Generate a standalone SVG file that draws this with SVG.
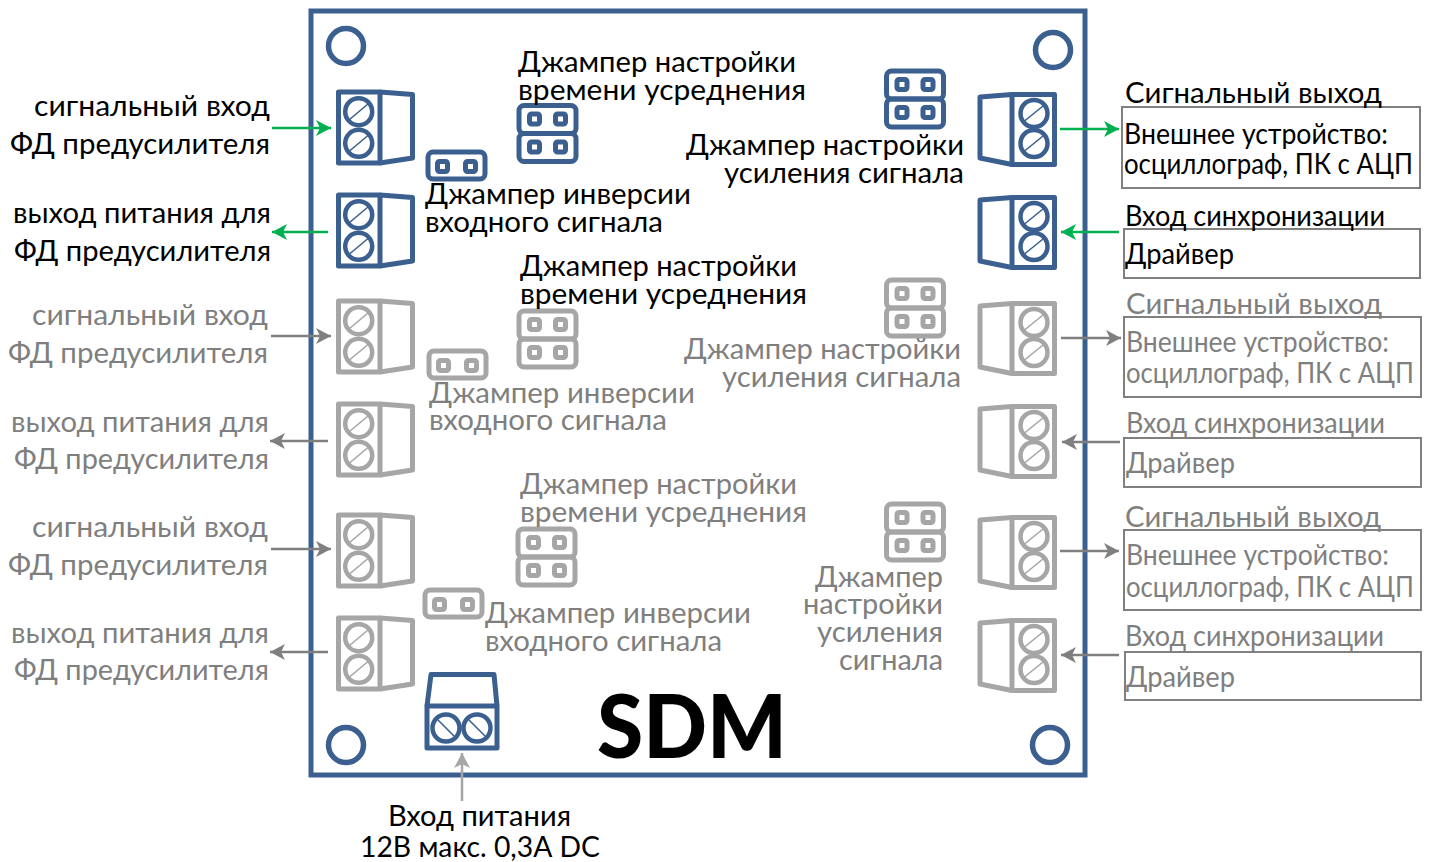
<svg xmlns="http://www.w3.org/2000/svg" width="1430" height="862" viewBox="0 0 1430 862">
<style>
text{font-family:"Lato","Open Sans","Noto Sans",sans-serif;font-size:28px;fill:#000}
.g text,text.g{fill:#7f7f7f}
.sh{fill:none;stroke-linejoin:round}
.blue{color:#3b6090}.grey{color:#a6a6a6}
.box{fill:none;stroke:#808080;stroke-width:2}
.ag{stroke:#00b050;stroke-width:2.5;fill:none;marker-end:url(#ma)}
.ak{stroke:#7f7f7f;stroke-width:2.5;fill:none;marker-end:url(#mk)}
.ap{stroke:#a6a6a6;stroke-width:2.5;fill:none;marker-end:url(#mp)}
</style>
<defs>
<marker id="ma" markerUnits="userSpaceOnUse" markerWidth="16" markerHeight="16" refX="15" refY="8" orient="auto"><path d="M0,0 L15,8 L0,16 L4,8Z" fill="#00b050"/></marker>
<marker id="mk" markerUnits="userSpaceOnUse" markerWidth="16" markerHeight="16" refX="15" refY="8" orient="auto"><path d="M0,0 L15,8 L0,16 L4,8Z" fill="#7f7f7f"/></marker>
<marker id="mp" markerUnits="userSpaceOnUse" markerWidth="16" markerHeight="16" refX="15" refY="8" orient="auto"><path d="M0,0 L15,8 L0,16 L4,8Z" fill="#a6a6a6"/></marker>
<g id="term" class="sh" stroke="currentColor">
<rect x="2.5" y="2.5" width="41.5" height="71" stroke-width="5"/>
<path d="M44,2.5 L76.5,5 V68.5 L44,73.5" stroke-width="5"/>
<circle cx="22.7" cy="22.2" r="13.5" stroke-width="4.5"/><circle cx="22.7" cy="53.8" r="13.5" stroke-width="4.5"/>
<path d="M13.5,30 L32,14.5 M13.5,61.5 L32,46" stroke-width="1.6"/>
</g>
<g id="termr" class="sh" stroke="currentColor">
<rect x="34.5" y="2.5" width="42.5" height="70" stroke-width="5"/>
<path d="M34.5,2.5 L2.5,5 V66 L34.5,72.5" stroke-width="5"/>
<circle cx="56.5" cy="21.5" r="13.5" stroke-width="4.5"/><circle cx="56.5" cy="51.5" r="13.5" stroke-width="4.5"/>
<path d="M47,29 L65.5,14 M47,59 L65.5,44" stroke-width="1.6"/>
</g>
<g id="pin" class="sh" stroke="currentColor"><rect x="-5" y="-5" width="10" height="10" rx="2" stroke-width="5"/></g>
<g id="j1" class="sh" stroke="currentColor"><rect x="2.5" y="2.5" width="57" height="27" rx="5" stroke-width="5"/>
<use href="#pin" x="17" y="17"/><use href="#pin" x="45" y="17"/></g>
<g id="j2" class="sh" stroke="currentColor"><rect x="2.5" y="2.5" width="57" height="28" rx="5" stroke-width="5"/><rect x="2.5" y="30.5" width="57" height="28" rx="5" stroke-width="5"/>
<use href="#pin" x="18" y="16"/><use href="#pin" x="44" y="16"/><use href="#pin" x="18" y="44"/><use href="#pin" x="44" y="44"/></g>
</defs>
<rect id="board" x="311" y="11" width="774" height="764" fill="none" stroke="#3b6090" stroke-width="5"/>
<g id="holes" fill="none" stroke="#3b6090" stroke-width="5.5">
<circle cx="346" cy="46" r="17.5"/><circle cx="1053" cy="50" r="17.5"/><circle cx="346" cy="745" r="17.5"/><circle cx="1050" cy="745" r="17.5"/>
</g>
<g id="term-l1" class="blue"><use href="#term" x="336" y="89.5"/></g>
<g id="term-l2" class="blue"><use href="#term" x="336" y="192.5"/></g>
<g id="term-l3" class="grey"><use href="#term" x="336" y="298.5"/></g>
<g id="term-l4" class="grey"><use href="#term" x="336" y="401.5"/></g>
<g id="term-l5" class="grey"><use href="#term" x="336" y="512.5"/></g>
<g id="term-l6" class="grey"><use href="#term" x="336" y="615.5"/></g>
<g id="term-r1" class="blue"><use href="#termr" x="977.5" y="92"/></g>
<g id="term-r2" class="blue"><use href="#termr" x="977.5" y="195"/></g>
<g id="term-r3" class="grey"><use href="#termr" x="977.5" y="301"/></g>
<g id="term-r4" class="grey"><use href="#termr" x="977.5" y="404"/></g>
<g id="term-r5" class="grey"><use href="#termr" x="977.5" y="515"/></g>
<g id="term-r6" class="grey"><use href="#termr" x="977.5" y="618"/></g>
<g id="term-power" class="blue"><g class="sh" stroke="currentColor">
<path d="M427,706 L431,674.5 H494 L497,706" stroke-width="5"/>
<rect x="427" y="706" width="70" height="42" stroke-width="5"/>
<circle cx="446" cy="728" r="13.5" stroke-width="4.5"/><circle cx="477" cy="728" r="13.5" stroke-width="4.5"/>
<path d="M438,720 L454,736 M469,720 L485,736" stroke-width="1.6"/></g></g>
<g id="jumper-a" class="blue"><use href="#j2" x="516.5" y="103"/></g>
<g id="jumper-b" class="blue"><use href="#j1" x="425.5" y="149.5"/></g>
<g id="jumper-c" class="blue"><use href="#j2" x="884" y="68.5"/></g>
<g id="jumper-d" class="grey"><use href="#j2" x="516.5" y="308.5"/></g>
<g id="jumper-e" class="grey"><use href="#j1" x="426.5" y="348.5"/></g>
<g id="jumper-f" class="grey"><use href="#j2" x="884" y="277.5"/></g>
<g id="jumper-g" class="grey"><use href="#j2" x="515.5" y="526.5"/></g>
<g id="jumper-h" class="grey"><use href="#j1" x="422.5" y="587.5"/></g>
<g id="jumper-i" class="grey"><use href="#j2" x="884" y="501.5"/></g>
<g id="boxes">
<rect class="box" x="1122" y="107" width="298" height="81"/>
<rect class="box" x="1124" y="229" width="296" height="49"/>
<rect class="box" x="1124" y="317" width="297" height="80"/>
<rect class="box" x="1124" y="438" width="297" height="49"/>
<rect class="box" x="1124" y="530" width="297" height="80"/>
<rect class="box" x="1125" y="652" width="296" height="48"/>
</g>
<g id="connectors">
<path class="ag" d="M272,128H331"/><path class="ag" d="M328,232H272"/>
<path class="ak" d="M271,336H331"/><path class="ak" d="M328,441H270"/>
<path class="ak" d="M271,549H331"/><path class="ak" d="M328,652H270"/>
<path class="ag" d="M1060,129H1119"/><path class="ag" d="M1119,232H1061"/>
<path class="ak" d="M1061,338H1121"/><path class="ak" d="M1120,442H1062"/>
<path class="ak" d="M1060,551H1119"/><path class="ak" d="M1119,655H1061"/>
<path class="ap" d="M462,801V753"/>
</g>
<g id="labels">
<text x="518" y="72" textLength="278" lengthAdjust="spacingAndGlyphs">Джампер настройки</text>
<text x="518" y="100" textLength="288" lengthAdjust="spacingAndGlyphs">времени усреднения</text>
<text x="425" y="204" textLength="266" lengthAdjust="spacingAndGlyphs">Джампер инверсии</text>
<text x="425" y="232" textLength="238" lengthAdjust="spacingAndGlyphs">входного сигнала</text>
<text x="686" y="155" textLength="278" lengthAdjust="spacingAndGlyphs">Джампер настройки</text>
<text x="724" y="183" textLength="240" lengthAdjust="spacingAndGlyphs">усиления сигнала</text>
<text x="1125" y="103" textLength="257" lengthAdjust="spacingAndGlyphs">Сигнальный выход</text>
<text x="1124" y="144" textLength="264" lengthAdjust="spacingAndGlyphs">Внешнее устройство:</text>
<text x="1124" y="174" textLength="289" lengthAdjust="spacingAndGlyphs">осциллограф, ПК с АЦП</text>
<text x="1125" y="226" textLength="260" lengthAdjust="spacingAndGlyphs">Вход синхронизации</text>
<text x="1125" y="264" textLength="109" lengthAdjust="spacingAndGlyphs">Драйвер</text>
<text x="34" y="116" textLength="236" lengthAdjust="spacingAndGlyphs">сигнальный вход</text>
<text x="10" y="154" textLength="260" lengthAdjust="spacingAndGlyphs">ФД предусилителя</text>
<text x="13" y="223" textLength="258" lengthAdjust="spacingAndGlyphs">выход питания для</text>
<text x="14" y="261" textLength="257" lengthAdjust="spacingAndGlyphs">ФД предусилителя</text>
<text x="520" y="276" textLength="277" lengthAdjust="spacingAndGlyphs">Джампер настройки</text>
<text x="520" y="304" textLength="287" lengthAdjust="spacingAndGlyphs">времени усреднения</text>
<text x="388" y="826" textLength="183" lengthAdjust="spacingAndGlyphs">Вход питания</text>
<text x="360" y="857" textLength="240" lengthAdjust="spacingAndGlyphs">12В макс. 0,3А DC</text>
<text x="597" y="758" textLength="190" lengthAdjust="spacingAndGlyphs" style="font-size:87px;font-weight:900">SDM</text>
</g>
<g id="labels-grey" class="g">
<text x="32" y="325" textLength="236" lengthAdjust="spacingAndGlyphs">сигнальный вход</text>
<text x="8" y="363" textLength="260" lengthAdjust="spacingAndGlyphs">ФД предусилителя</text>
<text x="11" y="432" textLength="258" lengthAdjust="spacingAndGlyphs">выход питания для</text>
<text x="14" y="469" textLength="255" lengthAdjust="spacingAndGlyphs">ФД предусилителя</text>
<text x="32" y="537" textLength="236" lengthAdjust="spacingAndGlyphs">сигнальный вход</text>
<text x="8" y="575" textLength="260" lengthAdjust="spacingAndGlyphs">ФД предусилителя</text>
<text x="11" y="643" textLength="258" lengthAdjust="spacingAndGlyphs">выход питания для</text>
<text x="14" y="680" textLength="255" lengthAdjust="spacingAndGlyphs">ФД предусилителя</text>
<text x="684" y="359" textLength="277" lengthAdjust="spacingAndGlyphs">Джампер настройки</text>
<text x="722" y="387" textLength="239" lengthAdjust="spacingAndGlyphs">усиления сигнала</text>
<text x="429" y="403" textLength="266" lengthAdjust="spacingAndGlyphs">Джампер инверсии</text>
<text x="429" y="430" textLength="238" lengthAdjust="spacingAndGlyphs">входного сигнала</text>
<text x="520" y="494" textLength="277" lengthAdjust="spacingAndGlyphs">Джампер настройки</text>
<text x="520" y="522" textLength="287" lengthAdjust="spacingAndGlyphs">времени усреднения</text>
<text x="485" y="623" textLength="266" lengthAdjust="spacingAndGlyphs">Джампер инверсии</text>
<text x="485" y="651" textLength="237" lengthAdjust="spacingAndGlyphs">входного сигнала</text>
<text x="815" y="587" textLength="128" lengthAdjust="spacingAndGlyphs">Джампер</text>
<text x="803" y="614" textLength="140" lengthAdjust="spacingAndGlyphs">настройки</text>
<text x="817" y="642" textLength="126" lengthAdjust="spacingAndGlyphs">усиления</text>
<text x="839" y="670" textLength="104" lengthAdjust="spacingAndGlyphs">сигнала</text>
<text x="1126" y="314" textLength="256" lengthAdjust="spacingAndGlyphs">Сигнальный выход</text>
<text x="1126" y="352" textLength="263" lengthAdjust="spacingAndGlyphs">Внешнее устройство:</text>
<text x="1126" y="383" textLength="288" lengthAdjust="spacingAndGlyphs">осциллограф, ПК с АЦП</text>
<text x="1126" y="433" textLength="259" lengthAdjust="spacingAndGlyphs">Вход синхронизации</text>
<text x="1126" y="473" textLength="109" lengthAdjust="spacingAndGlyphs">Драйвер</text>
<text x="1125" y="527" textLength="256" lengthAdjust="spacingAndGlyphs">Сигнальный выход</text>
<text x="1126" y="565" textLength="263" lengthAdjust="spacingAndGlyphs">Внешнее устройство:</text>
<text x="1126" y="597" textLength="288" lengthAdjust="spacingAndGlyphs">осциллограф, ПК с АЦП</text>
<text x="1125" y="646" textLength="259" lengthAdjust="spacingAndGlyphs">Вход синхронизации</text>
<text x="1126" y="687" textLength="109" lengthAdjust="spacingAndGlyphs">Драйвер</text>
</g>
</svg>
